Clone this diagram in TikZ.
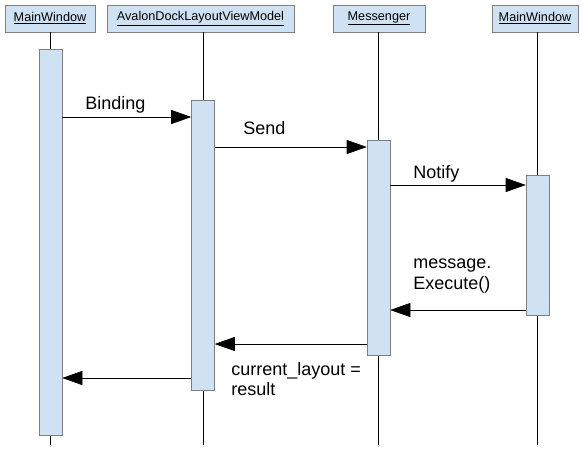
\documentclass[tikz,border=0pt]{standalone}
\usepackage{fontspec}
\setmainfont{Liberation Sans}
\usepackage{tikz}
\usetikzlibrary{positioning,calc,arrows.meta}
\definecolor{actblue}{RGB}{207,226,243}
\definecolor{actgray}{RGB}{128,128,128}
\tikzstyle{head}= [rectangle, draw=actgray, fill=actblue, inner sep=0pt, minimum height=20.25pt, font=\fontsize{9.5}{11}\selectfont]
\tikzstyle{act}= [rectangle, draw=actgray, fill=actblue, inner sep=0pt, minimum width=17.25pt]
\tikzstyle{msg}= [-{Triangle[length=15pt,width=10.5pt]}]
\tikzstyle{lbl}= [anchor=west, align=left, inner sep=0pt, font=\fontsize{13.5}{15.5}\selectfont]

\begin{document}
\begin{tikzpicture}[x=0.75pt, y=-0.75pt]
				\useasboundingbox (0,0) rectangle (583,455);
				\node[head, minimum width=67.5pt] (mw) at (50,18.5) {\underline{MainWindow}};
				\node[head, minimum width=140.25pt] (av) at (200.5,18.5) {\underline{AvalonDockLayoutViewModel}};
				\node[head, minimum width=69pt] (ms) at (379,18.5) {\underline{Messenger}};
				\node[head, minimum width=64.5pt] (mwb) at (535,18.5) {\underline{MainWindow}};
				
				\coordinate (endl) at (0,445);
				\draw (mw.south -| 50,0) -- (endl -| 50,0);
				\draw (av.south -| 203,0) -- (endl -| 203,0);
				\draw (ms.south -| 378,0) -- (endl -| 378,0);
				\draw (mwb.south -| 537,0) -- (endl -| 537,0);
				
				\node[act, minimum height=289.5pt] (mwact) at (50.5,242) {};
				\node[act, minimum height=217.5pt] (avact) at (203,245) {};
				\node[act, minimum height=161.25pt] (msact) at (378.5,247.5) {};
				\node[act, minimum height=105pt] (mwbact) at (537.5,245) {};
				
				\coordinate (y1) at (0,117);
				\coordinate (y2) at (0,147);
				\coordinate (y3) at (0,185);
				\coordinate (y4) at (0,310);
				\coordinate (y5) at (0,344);
				\coordinate (y6) at (0,378);
				
				\draw[msg] (mwact.east |- y1) -- (avact.west |- y1);
				\draw[msg] (avact.east |- y2) -- (msact.west |- y2);
				\draw[msg] (msact.east |- y3) -- (mwbact.west |- y3);
				\draw[msg] (mwbact.west |- y4) -- (msact.east |- y4);
				\draw[msg] (msact.west |- y5) -- (avact.east |- y5);
				\draw[msg] (avact.west |- y6) -- (mwact.east |- y6);
				
				\node[lbl] (binding) at (85,105) {Binding};
				\node[lbl] (send) at (243,128) {Send};
				\node[lbl] (notify) at (413,174) {Notify};
				\node[lbl] (execute) at (413,276) {message.\\Execute()};
				\node[lbl] (result) at (231,379) {current\_layout =\\result};
			\end{tikzpicture}
\end{document}
